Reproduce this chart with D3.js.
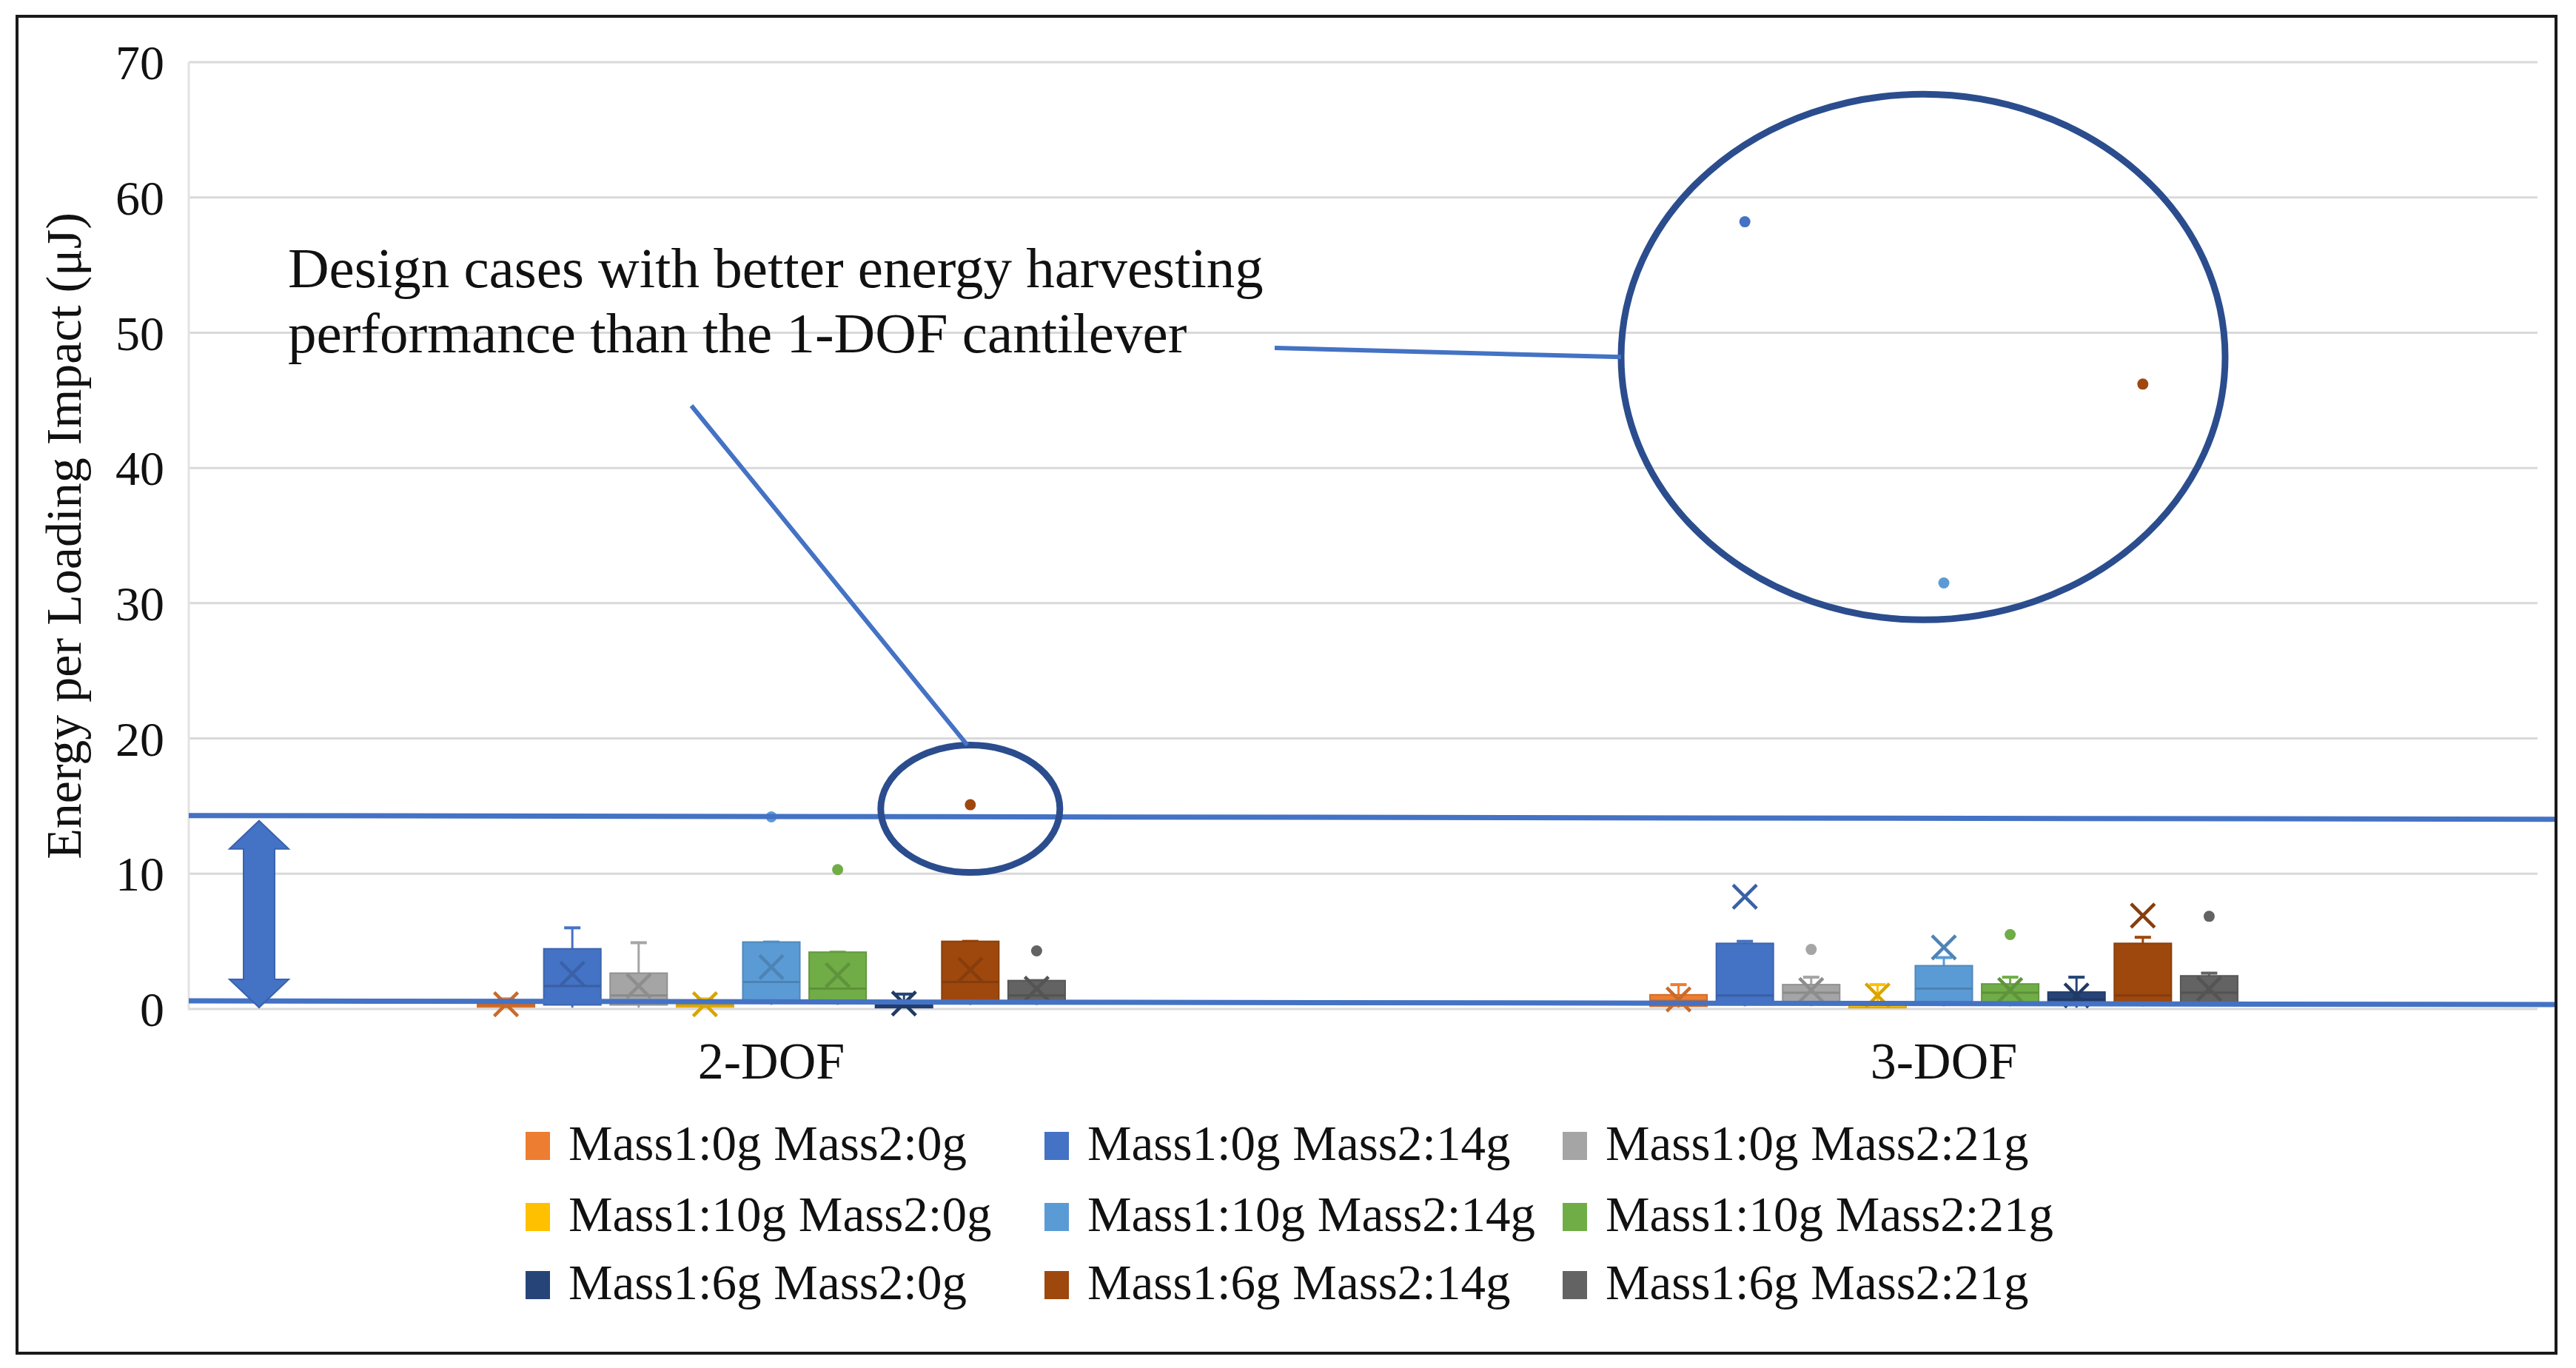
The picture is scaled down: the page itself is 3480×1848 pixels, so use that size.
<!DOCTYPE html>
<html><head><meta charset="utf-8">
<script src="https://cdn.jsdelivr.net/npm/d3@7"></script>
<style>html,body{margin:0;padding:0;background:#fff;} svg{display:block;}</style>
</head><body>
<svg id="chart" width="3480" height="1848"></svg>
<script>
// ---------------- DATA ----------------
const categories = ["2-DOF", "3-DOF"];
const seriesNames = ["Mass1:0g Mass2:0g","Mass1:0g Mass2:14g","Mass1:0g Mass2:21g",
                     "Mass1:10g Mass2:0g","Mass1:10g Mass2:14g","Mass1:10g Mass2:21g",
                     "Mass1:6g Mass2:0g","Mass1:6g Mass2:14g","Mass1:6g Mass2:21g"];
const seriesColors = ["#ED7D31","#4472C4","#A5A5A5","#FFC000","#5B9BD5","#70AD47","#264478","#9E480E","#636363"];
const yTicks = [0, 10, 20, 30, 40, 50, 60, 70];

// 2-DOF box statistics (µJ), one entry per series
const low2DOF    = [0.05, 0.1, 0.1, 0.05, 0.3, 0.3, 0.05, 0.3, 0.3];
const q1_2DOF    = [0.15, 0.3, 0.3, 0.15, 0.5, 0.5, 0.1, 0.5, 0.5];
const median2DOF = [0.3, 1.7, 1.0, 0.3, 2.0, 1.5, 0.3, 2.0, 1.0];
const q3_2DOF    = [0.55, 4.45, 2.65, 0.5, 4.95, 4.2, 0.6, 5.0, 2.1];
const high2DOF   = [0.75, 6.0, 4.9, 0.75, 4.95, 4.2, 1.1, 5.0, 2.1];
const mean2DOF   = [0.35, 2.6, 1.7, 0.35, 3.1, 2.5, 0.4, 2.9, 1.5];
const outliers2DOF = [[], [], [], [], [14.2], [10.3], [], [15.1], [4.3]];

// 3-DOF box statistics (µJ)
const low3DOF    = [0.1, 0.2, 0.2, 0.05, 0.2, 0.2, 0.1, 0.2, 0.2];
const q1_3DOF    = [0.2, 0.4, 0.4, 0.1, 0.4, 0.4, 0.3, 0.4, 0.4];
const median3DOF = [0.6, 1.0, 1.2, 0.3, 1.5, 1.2, 0.7, 1.0, 1.2];
const q3_3DOF    = [1.05, 4.85, 1.8, 0.45, 3.2, 1.85, 1.25, 4.85, 2.45];
const high3DOF   = [1.8, 5.0, 2.35, 1.8, 3.8, 2.35, 2.35, 5.3, 2.65];
const mean3DOF   = [0.7, 8.3, 1.4, 1.0, 4.55, 1.4, 1.0, 6.9, 1.5];
const outliers3DOF = [[], [58.2], [4.4], [], [31.5], [5.5], [], [46.2], [6.85]];

// reference level of the 1-DOF cantilever and the lower guide line
const oneDofLevel = 14.3;
const lowerGuideLevel = 0.6;

// ---------------- BUILD ----------------
const stats = {
  "2-DOF": {low: low2DOF, q1: q1_2DOF, med: median2DOF, q3: q3_2DOF, high: high2DOF, mean: mean2DOF, out: outliers2DOF},
  "3-DOF": {low: low3DOF, q1: q1_3DOF, med: median3DOF, q3: q3_3DOF, high: high3DOF, mean: mean3DOF, out: outliers3DOF}
};
const boxes = [];
categories.forEach(c => {
  seriesNames.forEach((s, i) => {
    const st = stats[c];
    boxes.push({cat: c, series: s, i, low: st.low[i], q1: st.q1[i], med: st.med[i], q3: st.q3[i],
                high: st.high[i], mean: st.mean[i], out: st.out[i]});
  });
});

const FONT = "'Liberation Serif', 'Times New Roman', serif";
const svg = d3.select("#chart");
const plotLeft = 255, plotRight = 3428;

const x = d3.scaleBand().domain(categories).range([250, 3418]).paddingInner(0).paddingOuter(0);
const groupW = 819;
const xs = d3.scaleBand().domain(seriesNames)
  .range([(x.bandwidth() - groupW) / 2, (x.bandwidth() + groupW) / 2]).padding(0.14);
const y = d3.scaleLinear().domain([0, 70]).range([1363, 84]);
const color = d3.scaleOrdinal().domain(seriesNames).range(seriesColors);

// frame
svg.append("rect").attr("x", 23).attr("y", 22).attr("width", 3430).attr("height", 1806)
  .attr("fill", "#fff").attr("stroke", "#1a1a1a").attr("stroke-width", 4);

// gridlines
svg.append("g").selectAll("line").data(yTicks).join("line")
  .attr("x1", plotLeft).attr("x2", plotRight)
  .attr("y1", d => y(d)).attr("y2", d => y(d))
  .attr("stroke", "#D9D9D9").attr("stroke-width", 3);
svg.append("line").attr("x1", plotLeft).attr("x2", plotLeft).attr("y1", y(70)).attr("y2", y(0) + 2)
  .attr("stroke", "#E3E3E3").attr("stroke-width", 3);

// y tick labels
svg.append("g").selectAll("text").data(yTicks).join("text")
  .attr("x", 222).attr("y", d => y(d)).attr("dy", "0.35em")
  .attr("text-anchor", "end").attr("font-family", FONT).attr("font-size", 66).attr("fill", "#111")
  .text(d => d);

// y axis title
svg.append("text").attr("transform", "translate(109,724) rotate(-90)")
  .attr("text-anchor", "middle").attr("font-family", FONT).attr("font-size", 68).attr("fill", "#111")
  .text("Energy per Loading Impact (μJ)");

// category labels
svg.append("g").selectAll("text").data(categories).join("text")
  .attr("x", d => x(d) + x.bandwidth() / 2).attr("y", 1457)
  .attr("text-anchor", "middle").attr("font-family", FONT).attr("font-size", 70).attr("fill", "#111")
  .text(d => d);

// boxes
const bw = xs.bandwidth();
const g = svg.append("g").selectAll("g").data(boxes).join("g")
  .attr("transform", d => `translate(${x(d.cat) + xs(d.series)},0)`);
const cx = bw / 2;
// whiskers
g.append("line").attr("x1", cx).attr("x2", cx).attr("y1", d => y(d.q3)).attr("y2", d => y(d.high))
  .attr("stroke", d => color(d.series)).attr("stroke-width", 3);
g.append("line").attr("x1", cx - 11).attr("x2", cx + 11).attr("y1", d => y(d.high)).attr("y2", d => y(d.high))
  .attr("stroke", d => color(d.series)).attr("stroke-width", 4);
g.append("line").attr("x1", cx).attr("x2", cx).attr("y1", d => y(d.q1)).attr("y2", d => y(d.low))
  .attr("stroke", d => color(d.series)).attr("stroke-width", 3);
// box
g.append("rect").attr("x", 0).attr("width", bw)
  .attr("y", d => y(d.q3)).attr("height", d => Math.max(1, y(d.q1) - y(d.q3)))
  .attr("fill", d => color(d.series))
  .attr("stroke", d => d3.color(color(d.series)).darker(0.35)).attr("stroke-width", 2);
// median
g.append("line").attr("x1", 0).attr("x2", bw).attr("y1", d => y(d.med)).attr("y2", d => y(d.med))
  .attr("stroke", d => d3.color(color(d.series)).darker(0.5)).attr("stroke-width", 3);
// mean X
const m = 16;
g.append("path")
  .attr("d", d => `M${cx - m},${y(d.mean) - m}L${cx + m},${y(d.mean) + m}M${cx - m},${y(d.mean) + m}L${cx + m},${y(d.mean) - m}`)
  .attr("stroke", d => d3.color(color(d.series)).darker(0.45)).attr("stroke-width", 4.5).attr("fill", "none");
// outliers
g.selectAll("circle").data(d => d.out.map(v => ({v, s: d.series}))).join("circle")
  .attr("cx", cx).attr("cy", d => y(d.v)).attr("r", 7.5)
  .attr("fill", d => color(d.s));

// ---------------- ANNOTATIONS ----------------
const guide = "#4472C4";
svg.append("line").attr("x1", plotLeft).attr("x2", 3451)
  .attr("y1", y(oneDofLevel)).attr("y2", y(oneDofLevel) + 5)
  .attr("stroke", guide).attr("stroke-width", 7);
svg.append("line").attr("x1", plotLeft).attr("x2", 3451)
  .attr("y1", y(lowerGuideLevel)).attr("y2", y(lowerGuideLevel) + 5)
  .attr("stroke", guide).attr("stroke-width", 7);

// double-headed arrow
const ax = 350, aTop = y(oneDofLevel) + 7, aBot = y(0) - 2, hw = 40, hh = 38, sw = 21;
svg.append("path")
  .attr("d", `M${ax},${aTop} L${ax + hw},${aTop + hh} L${ax + sw},${aTop + hh} L${ax + sw},${aBot - hh} L${ax + hw},${aBot - hh} L${ax},${aBot} L${ax - hw},${aBot - hh} L${ax - sw},${aBot - hh} L${ax - sw},${aTop + hh} L${ax - hw},${aTop + hh} Z`)
  .attr("fill", "#4472C4").attr("stroke", "#3A62AE").attr("stroke-width", 2);

// small ellipse around 2-DOF outlier
const sCx = x("2-DOF") + xs(seriesNames[7]) + bw / 2, sCy = y(14.8);
svg.append("ellipse").attr("cx", sCx).attr("cy", sCy).attr("rx", 121).attr("ry", 86)
  .attr("fill", "none").attr("stroke", "#2B4D8E").attr("stroke-width", 9);
// big ellipse around 3-DOF outliers
const bCx = x("3-DOF") + xs(seriesNames[4]) + bw / 2 - 28, bCy = y(48.2);
svg.append("ellipse").attr("cx", bCx).attr("cy", bCy).attr("rx", 408).attr("ry", 355)
  .attr("fill", "none").attr("stroke", "#2B4D8E").attr("stroke-width", 9);

// connectors
svg.append("line").attr("x1", 934).attr("y1", 548).attr("x2", sCx - 4).attr("y2", sCy - 86)
  .attr("stroke", "#4472C4").attr("stroke-width", 6);
svg.append("line").attr("x1", 1722).attr("y1", 470).attr("x2", bCx - 408).attr("y2", bCy)
  .attr("stroke", "#4472C4").attr("stroke-width", 6);

// annotation text
const ann = svg.append("text").attr("font-family", FONT).attr("font-size", 77).attr("fill", "#111");
ann.append("tspan").attr("x", 389).attr("y", 388).text("Design cases with better energy harvesting");
ann.append("tspan").attr("x", 389).attr("y", 476).text("performance than the 1-DOF cantilever");

// ---------------- LEGEND ----------------
const legCols = [710, 1411, 2111], legRows = [1567, 1663, 1755];
const lg = svg.append("g").selectAll("g").data(seriesNames).join("g")
  .attr("transform", (d, i) => `translate(${legCols[i % 3]},${legRows[Math.floor(i / 3)]})`);
lg.append("rect").attr("x", 0).attr("y", -38).attr("width", 33).attr("height", 38)
  .attr("fill", d => color(d));
lg.append("text").attr("x", 58).attr("y", 0).attr("font-family", FONT).attr("font-size", 67).attr("fill", "#111")
  .text(d => d);
</script>
</body></html>
